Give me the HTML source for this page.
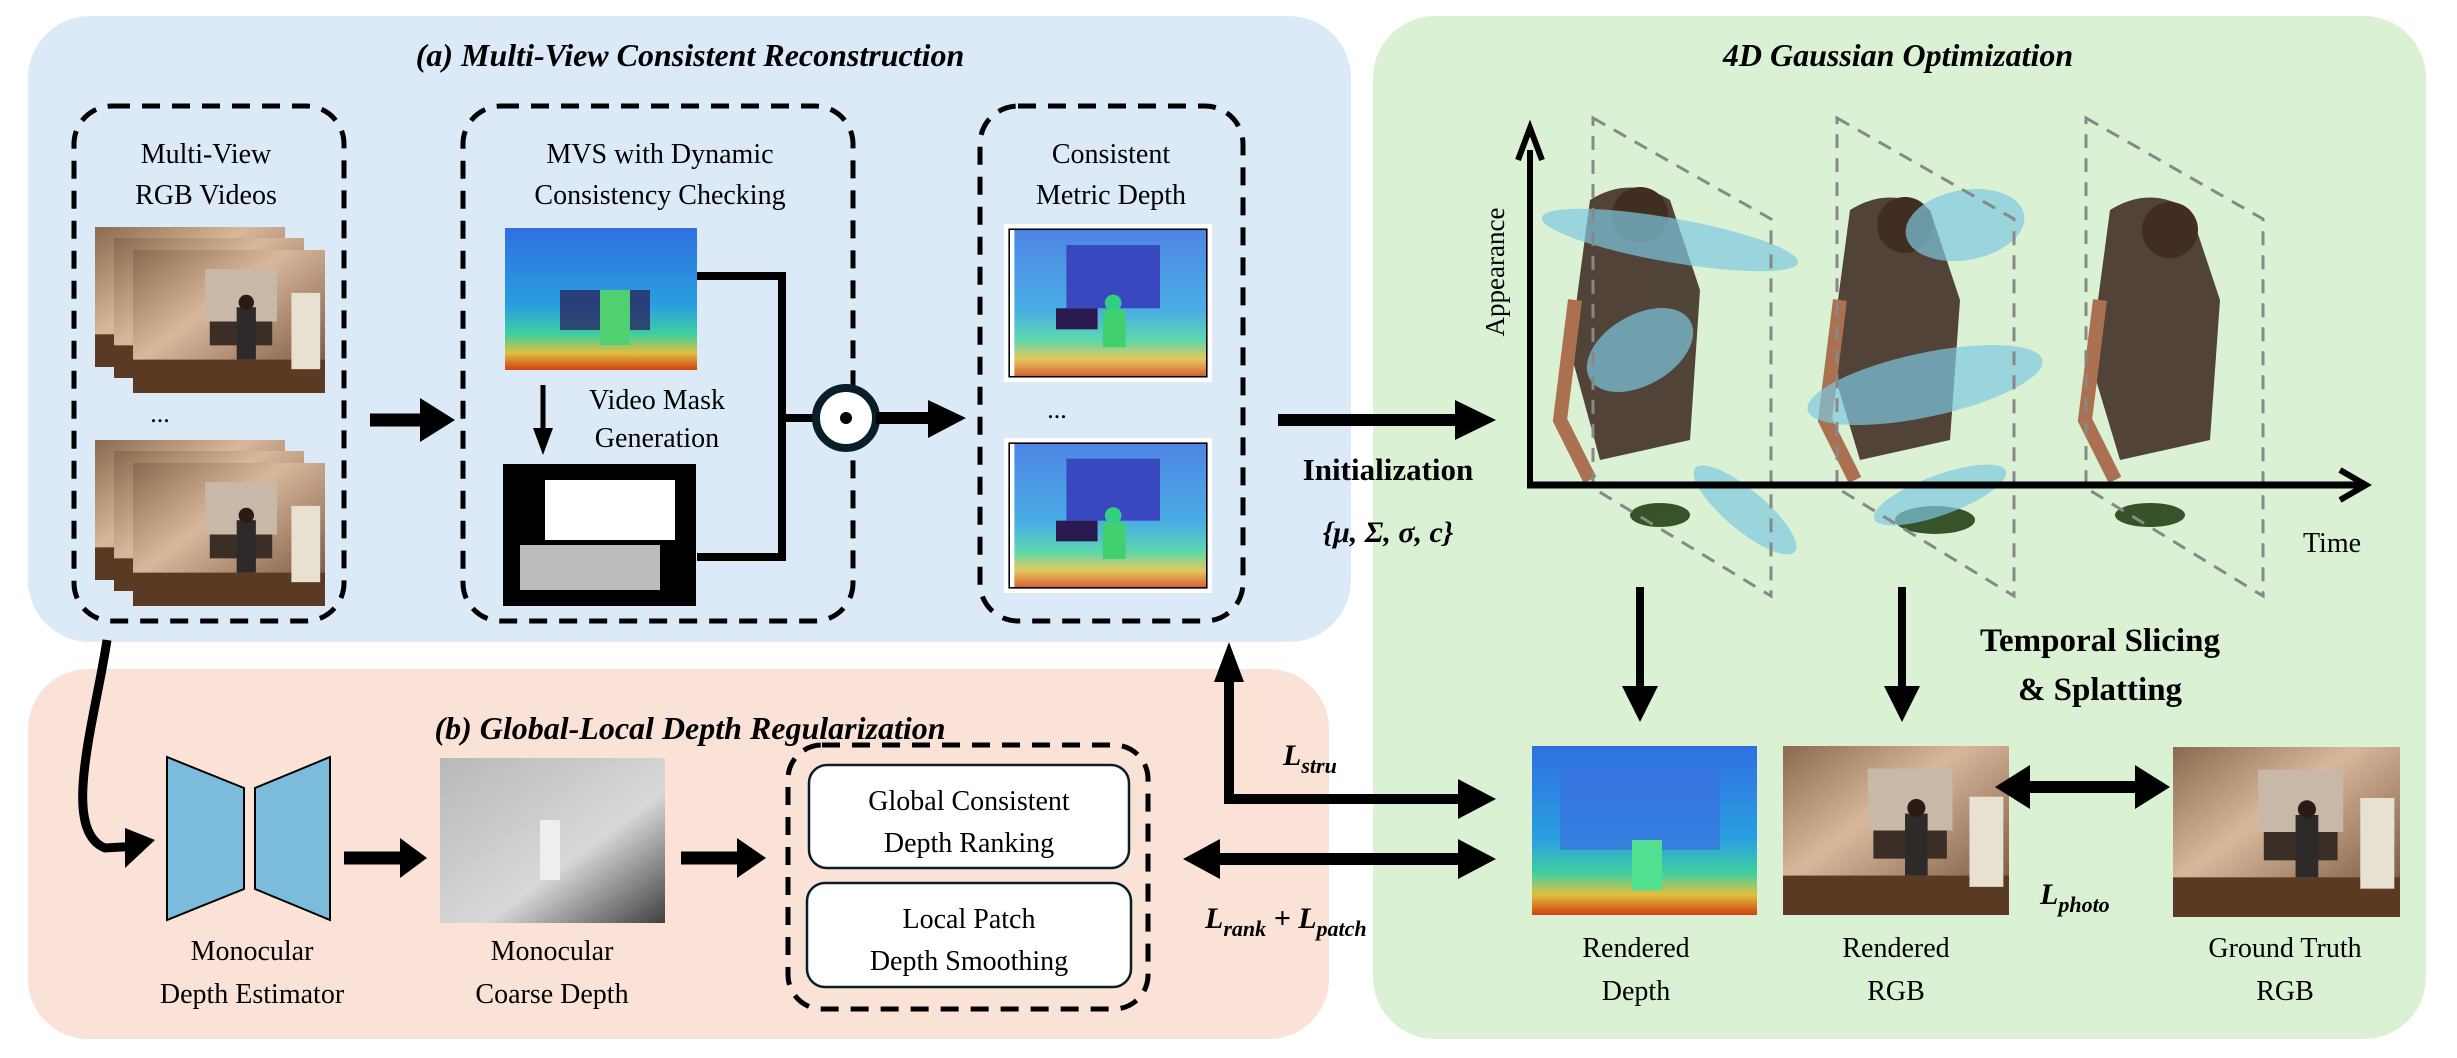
<!DOCTYPE html>
<html><head><meta charset="utf-8"><style>
html,body{margin:0;padding:0;background:#fff;}
svg{display:block;font-family:"Liberation Serif","DejaVu Serif","Times New Roman",Times,serif;}
svg text{font-family:"Liberation Serif","DejaVu Serif","Times New Roman",Times,serif !important;fill:#000;}
.t{font-size:28px;text-anchor:middle;}
.h{font-size:32px;font-weight:bold;font-style:italic;text-anchor:middle;}
.b{font-size:31px;font-weight:bold;text-anchor:middle;}
.m{font-size:30px;font-weight:bold;font-style:italic;}
</style></head><body>
<svg width="2457" height="1058" viewBox="0 0 2457 1058" xmlns="http://www.w3.org/2000/svg" font-family="Liberation Serif, DejaVu Serif, serif">
<defs>
<linearGradient id="wall" x1="0" y1="0" x2="1" y2="1"><stop offset="0" stop-color="#8a6a4e"/><stop offset=".4" stop-color="#d9b79b"/><stop offset="1" stop-color="#6b4a33"/></linearGradient>
<linearGradient id="jet" x1="0" y1="0" x2="0" y2="1"><stop offset="0" stop-color="#2f6fe0"/><stop offset=".55" stop-color="#2a9fe0"/><stop offset=".75" stop-color="#3fd0a0"/><stop offset=".88" stop-color="#e0c040"/><stop offset="1" stop-color="#d04010"/></linearGradient>
<linearGradient id="gray" x1="0" y1="0" x2="1" y2="1"><stop offset="0" stop-color="#b8b8b8"/><stop offset=".6" stop-color="#d8d8d8"/><stop offset="1" stop-color="#404040"/></linearGradient>
<symbol id="room" viewBox="0 0 200 150" preserveAspectRatio="none">
<rect width="200" height="150" fill="url(#wall)"/>
<rect x="75" y="20" width="75" height="55" fill="#c8b8a8"/>
<rect x="80" y="75" width="65" height="25" fill="#3a2e26"/>
<rect x="108" y="60" width="20" height="55" fill="#2e2a2a"/>
<circle cx="118" cy="55" r="8" fill="#2a1c14"/>
<rect x="0" y="115" width="200" height="35" fill="#5a3a22"/>
<rect x="165" y="45" width="30" height="80" fill="#e8e0d0"/>
</symbol>
<symbol id="pdepth" viewBox="0 0 200 150" preserveAspectRatio="none">
<rect width="200" height="150" fill="#fff"/>
<rect x="10" y="5" width="185" height="140" fill="url(#jet)" opacity=".85"/>
<rect x="60" y="20" width="90" height="60" fill="#3a48c0"/>
<rect x="50" y="80" width="40" height="20" fill="#2a1a50"/>
<circle cx="105" cy="75" r="8" fill="#30d080"/>
<rect x="95" y="82" width="22" height="35" fill="#40d070"/>
<rect x="5" y="5" width="190" height="140" fill="none" stroke="#000" stroke-width="1.5"/>
</symbol>
</defs>

<rect x="28" y="16" width="1323" height="626" rx="62" fill="#dce9f6"/>
<rect x="28" y="669" width="1301" height="370" rx="60" fill="#fae2d6"/>
<rect x="1373" y="16" width="1053" height="1023" rx="62" fill="#dbf1d3"/>

<text class="h" x="690" y="66">(a) Multi-View Consistent Reconstruction</text>
<text class="h" x="1898" y="66">4D Gaussian Optimization</text>
<text class="h" x="690" y="739">(b) Global-Local Depth Regularization</text>

<g fill="none" stroke="#000" stroke-width="5" stroke-dasharray="18,12">
<rect x="74" y="106" width="270" height="515" rx="38"/>
<rect x="463" y="106" width="390" height="515" rx="38"/>
<rect x="980" y="106" width="263" height="515" rx="38"/>
<rect x="788" y="745" width="360" height="264" rx="34"/>
</g>

<text class="t" x="206" y="163">Multi-View</text>
<text class="t" x="206" y="204">RGB Videos</text>
<text class="t" x="660" y="163">MVS with Dynamic</text>
<text class="t" x="660" y="204">Consistency Checking</text>
<text class="t" x="1111" y="163">Consistent</text>
<text class="t" x="1111" y="204">Metric Depth</text>

<use href="#room" x="95" y="227" width="190" height="140"/>
<use href="#room" x="114" y="238" width="190" height="140"/>
<use href="#room" x="133" y="250" width="192" height="143"/>
<text class="t" x="160" y="422" style="font-size:26px">...</text>
<use href="#room" x="95" y="440" width="190" height="140"/>
<use href="#room" x="114" y="451" width="190" height="140"/>
<use href="#room" x="133" y="463" width="192" height="143"/>

<rect x="505" y="228" width="192" height="142" fill="url(#jet)"/>
<rect x="560" y="290" width="90" height="40" fill="#2a2860" opacity=".8"/>
<rect x="600" y="290" width="30" height="55" fill="#50d070"/>
<rect x="503" y="464" width="193" height="142" fill="#000"/>
<rect x="545" y="480" width="130" height="60" fill="#fff"/>
<rect x="520" y="545" width="140" height="45" fill="#bbb"/>
<line x1="543" y1="385" x2="543" y2="430" stroke="#000" stroke-width="5"/>
<polygon points="533,428 553,428 543,455" fill="#000"/>
<text class="t" x="657" y="409">Video Mask</text>
<text class="t" x="657" y="447">Generation</text>
<polyline points="697,276 782,276 782,557 697,557" fill="none" stroke="#000" stroke-width="8"/>
<line x1="782" y1="418" x2="815" y2="418" stroke="#000" stroke-width="8"/>
<circle cx="846" cy="418" r="30" fill="#fff" stroke="#0a1e2a" stroke-width="8"/>
<circle cx="846" cy="418" r="6" fill="#000"/>
<line x1="876" y1="418" x2="930" y2="418" stroke="#000" stroke-width="12"/>
<polygon points="928,400 966,418 928,438" fill="#000"/>

<use href="#pdepth" x="1004" y="224" width="208" height="158"/>
<text class="t" x="1057" y="418" style="font-size:26px">...</text>
<use href="#pdepth" x="1004" y="438" width="208" height="155"/>

<line x1="370" y1="420" x2="425" y2="420" stroke="#000" stroke-width="13"/>
<polygon points="420,398 455,420 420,442" fill="#000"/>

<line x1="1278" y1="420" x2="1458" y2="420" stroke="#000" stroke-width="12"/>
<polygon points="1455,400 1496,420 1455,440" fill="#000"/>
<text class="b" x="1388" y="480">Initialization</text>
<text x="1388" y="542" style="font-size:30px;font-weight:bold;font-style:italic;text-anchor:middle">{μ, Σ, σ, c}</text>

<g opacity=".95">
<path d="M1590,200 q40,-25 80,0 l30,90 l-10,150 l-90,20 l-30,-110 z" fill="#4a3a30"/>
<path d="M1850,210 q40,-25 80,0 l30,90 l-10,140 l-90,20 l-30,-100 z" fill="#4a3a30"/>
<path d="M2110,210 q40,-25 80,0 l30,90 l-10,140 l-90,20 l-30,-100 z" fill="#4a3a30"/>
<ellipse cx="1640" cy="215" rx="28" ry="28" fill="#3a2418"/>
<ellipse cx="1905" cy="225" rx="28" ry="28" fill="#3a2418"/>
<ellipse cx="2170" cy="230" rx="28" ry="28" fill="#3a2418"/>
<path d="M1575,300 l-15,120 l30,60" stroke="#a86a4a" stroke-width="14" fill="none"/>
<path d="M1840,300 l-15,120 l30,60" stroke="#a86a4a" stroke-width="14" fill="none"/>
<path d="M2100,300 l-15,120 l30,60" stroke="#a86a4a" stroke-width="14" fill="none"/>
<ellipse cx="1660" cy="515" rx="30" ry="12" fill="#2e4a20"/>
<ellipse cx="1935" cy="520" rx="40" ry="14" fill="#2e4a20"/>
<ellipse cx="2150" cy="515" rx="35" ry="12" fill="#2e4a20"/>
</g>
<g fill="#7ec8e0" opacity=".7">
<ellipse cx="1670" cy="240" rx="130" ry="22" transform="rotate(10 1670 240)"/>
<ellipse cx="1965" cy="225" rx="60" ry="35" transform="rotate(-10 1965 225)"/>
<ellipse cx="1640" cy="350" rx="58" ry="35" transform="rotate(-30 1640 350)"/>
<ellipse cx="1925" cy="385" rx="120" ry="32" transform="rotate(-12 1925 385)"/>
<ellipse cx="1745" cy="510" rx="65" ry="20" transform="rotate(40 1745 510)"/>
<ellipse cx="1940" cy="495" rx="70" ry="20" transform="rotate(-20 1940 495)"/>
</g>
<g stroke="#888" stroke-width="3" stroke-dasharray="14,10" fill="none">
<polygon points="1593,118 1771,219 1771,596 1593,488"/>
<polygon points="1837,118 2014,219 2014,596 1837,488"/>
<polygon points="2086,118 2263,219 2263,596 2086,488"/>
</g>
<line x1="1530" y1="485" x2="1530" y2="150" stroke="#000" stroke-width="6"/>
<polyline points="1518,160 1530,128 1542,160" fill="none" stroke="#000" stroke-width="6"/>
<line x1="1527" y1="485" x2="2360" y2="485" stroke="#000" stroke-width="7"/>
<polyline points="2340,470 2366,485 2340,500" fill="none" stroke="#000" stroke-width="6"/>
<text class="t" transform="translate(1504,272) rotate(-90)" style="font-size:27px">Appearance</text>
<text class="t" x="2332" y="552">Time</text>

<line x1="1640" y1="587" x2="1640" y2="690" stroke="#000" stroke-width="8"/>
<polygon points="1622,686 1658,686 1640,722" fill="#000"/>
<line x1="1902" y1="587" x2="1902" y2="690" stroke="#000" stroke-width="8"/>
<polygon points="1884,686 1920,686 1902,722" fill="#000"/>
<text class="b" x="2100" y="651" style="font-size:33px">Temporal Slicing</text>
<text class="b" x="2100" y="700" style="font-size:33px">&amp; Splatting</text>

<rect x="1532" y="746" width="225" height="169" fill="url(#jet)"/>
<rect x="1560" y="770" width="160" height="80" fill="#3a70e0" opacity=".7"/>
<rect x="1632" y="840" width="30" height="50" fill="#50e090"/>
<use href="#room" x="1783" y="746" width="226" height="169"/>
<use href="#room" x="2173" y="747" width="227" height="170"/>
<text class="t" x="1636" y="957">Rendered</text>
<text class="t" x="1636" y="1000">Depth</text>
<text class="t" x="1896" y="957">Rendered</text>
<text class="t" x="1896" y="1000">RGB</text>
<text class="t" x="2285" y="957">Ground Truth</text>
<text class="t" x="2285" y="1000">RGB</text>
<line x1="2025" y1="787" x2="2140" y2="787" stroke="#000" stroke-width="12"/>
<polygon points="2030,765 1995,787 2030,809" fill="#000"/>
<polygon points="2135,765 2170,787 2135,809" fill="#000"/>
<text class="m" x="2040" y="904">L<tspan font-size="22" dy="8">photo</tspan></text>

<polyline points="1229,680 1229,799 1460,799" fill="none" stroke="#000" stroke-width="10"/>
<polygon points="1214,682 1229,642 1244,682" fill="#000"/>
<polygon points="1458,779 1496,799 1458,819" fill="#000"/>
<text class="m" x="1283" y="765">L<tspan font-size="22" dy="8">stru</tspan></text>
<line x1="1215" y1="859" x2="1465" y2="859" stroke="#000" stroke-width="12"/>
<polygon points="1220,839 1183,859 1220,879" fill="#000"/>
<polygon points="1458,839 1496,859 1458,879" fill="#000"/>
<text class="m" x="1205" y="928">L<tspan font-size="22" dy="8">rank</tspan><tspan dy="-8"> + L</tspan><tspan font-size="22" dy="8">patch</tspan></text>

<path d="M107,640 C95,720 60,830 105,848 L140,846" fill="none" stroke="#000" stroke-width="9"/>
<polygon points="125,828 155,840 125,868" fill="#000"/>

<polygon points="167,757 244,788 244,889 167,920" fill="#7bbcdc" stroke="#000" stroke-width="2"/>
<polygon points="330,757 255,788 255,889 330,920" fill="#7bbcdc" stroke="#000" stroke-width="2"/>
<line x1="344" y1="858" x2="405" y2="858" stroke="#000" stroke-width="13"/>
<polygon points="400,838 427,858 400,878" fill="#000"/>
<rect x="440" y="758" width="225" height="165" fill="url(#gray)"/>
<rect x="540" y="820" width="20" height="60" fill="#eee"/>
<line x1="681" y1="858" x2="740" y2="858" stroke="#000" stroke-width="13"/>
<polygon points="737,838 766,858 737,878" fill="#000"/>
<text class="t" x="252" y="960">Monocular</text>
<text class="t" x="252" y="1003">Depth Estimator</text>
<text class="t" x="552" y="960">Monocular</text>
<text class="t" x="552" y="1003">Coarse Depth</text>

<rect x="809" y="765" width="320" height="103" rx="18" fill="#fff" stroke="#0a1e2a" stroke-width="2.5"/>
<rect x="807" y="883" width="324" height="104" rx="18" fill="#fff" stroke="#0a1e2a" stroke-width="2.5"/>
<text class="t" x="969" y="810">Global Consistent</text>
<text class="t" x="969" y="852">Depth Ranking</text>
<text class="t" x="969" y="928">Local Patch</text>
<text class="t" x="969" y="970">Depth Smoothing</text>
</svg>
</body></html>
